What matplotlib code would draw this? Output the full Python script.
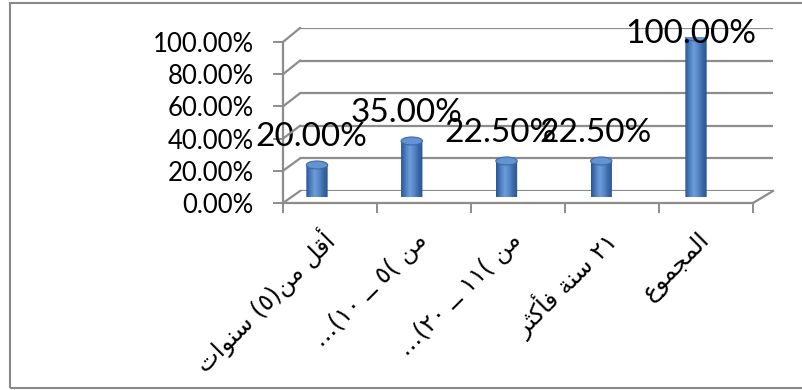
import re
import numpy as np
import matplotlib
matplotlib.use("Agg")
import matplotlib.pyplot as plt
from matplotlib.patches import Rectangle, Ellipse
from matplotlib.path import Path
from matplotlib.lines import Line2D
from matplotlib.colors import LinearSegmentedColormap

# ---------------- data ----------------
categories = ["أقل من(٥) سنوات", "من )٥ ــ ١٠)...", "من )١١ ــ ٢٠)...", "٢١ سنة فأكثر", "المجموع"]
values = [0.20, 0.35, 0.225, 0.225, 1.00]
data_labels = ["20.00%", "35.00%", "22.50%", "22.50%", "100.00%"]
y_ticks = [0.0, 0.2, 0.4, 0.6, 0.8, 1.0]
y_tick_labels = ["0.00%", "20.00%", "40.00%", "60.00%", "80.00%", "100.00%"]

# ---------------- minimal Arabic shaping / bidi ----------------
FORMS = {
    '\u0627': ('\uFE8D', '\uFE8E', None, None),
    '\u0623': ('\uFE83', '\uFE84', None, None),
    '\u0629': ('\uFE93', '\uFE94', None, None),
    '\u062A': ('\uFE95', '\uFE96', '\uFE97', '\uFE98'),
    '\u062B': ('\uFE99', '\uFE9A', '\uFE9B', '\uFE9C'),
    '\u062C': ('\uFE9D', '\uFE9E', '\uFE9F', '\uFEA0'),
    '\u0631': ('\uFEAD', '\uFEAE', None, None),
    '\u0633': ('\uFEB1', '\uFEB2', '\uFEB3', '\uFEB4'),
    '\u0639': ('\uFEC9', '\uFECA', '\uFECB', '\uFECC'),
    '\u0641': ('\uFED1', '\uFED2', '\uFED3', '\uFED4'),
    '\u0642': ('\uFED5', '\uFED6', '\uFED7', '\uFED8'),
    '\u0643': ('\uFED9', '\uFEDA', '\uFEDB', '\uFEDC'),
    '\u0644': ('\uFEDD', '\uFEDE', '\uFEDF', '\uFEE0'),
    '\u0645': ('\uFEE1', '\uFEE2', '\uFEE3', '\uFEE4'),
    '\u0646': ('\uFEE5', '\uFEE6', '\uFEE7', '\uFEE8'),
    '\u0648': ('\uFEED', '\uFEEE', None, None),
    '\u0640': ('\u0640', '\u0640', '\u0640', '\u0640'),
}


def shape(s):
    out = []
    for i, c in enumerate(s):
        if c not in FORMS:
            out.append(c)
            continue
        prev = s[i - 1] if i > 0 else ''
        nxt = s[i + 1] if i + 1 < len(s) else ''
        jp = prev in FORMS and FORMS[prev][2] is not None
        jn = nxt in FORMS and FORMS[c][2] is not None
        iso, fin, ini, med = FORMS[c]
        if jp and jn:
            out.append(med)
        elif jp:
            out.append(fin)
        elif jn:
            out.append(ini)
        else:
            out.append(iso)
    return ''.join(out)


def visual(s):
    v = shape(s)[::-1]
    v = re.sub(r'[\u0660-\u06690-9]+', lambda m: m.group(0)[::-1], v)
    return v.translate(str.maketrans('()', ')('))


# ---------------- figure ----------------
W, H = 803, 390
fig = plt.figure(figsize=(W / 100, H / 100), dpi=100)
GRID = '#8c8c8c'
LATIN = ['Lato', 'DejaVu Sans']
ARAB = ['DejaVu Sans']


def box(l, t, r, b):
    return [l / W, 1 - b / H, (r - l) / W, (b - t) / H]


# back wall (gridlines)
ax_back = fig.add_axes(box(300, 28, 773, 191))
ax_back.set_xlim(0, 1)
ax_back.set_ylim(0, 1)
for t in y_ticks:
    ax_back.axhline(t, color=GRID, lw=1.6)
ax_back.axis('off')

# front axes (ticks and labels)
n = len(categories)
ax = fig.add_axes(box(283, 42, 753, 203))
ax.set_xlim(-0.5, n - 0.5)
ax.set_ylim(0, 1)
ax.patch.set_alpha(0)
for sp in ['top', 'right']:
    ax.spines[sp].set_visible(False)
for sp in ['left', 'bottom']:
    ax.spines[sp].set_color(GRID)
    ax.spines[sp].set_linewidth(1.6)
ax.set_yticks(y_ticks)
ax.set_yticklabels(y_tick_labels, fontsize=18.5, family=LATIN)
ax.tick_params(axis='y', length=7, width=1.4, color=GRID, pad=14)
ax.set_xticks(np.arange(n + 1) - 0.5)
ax.set_xticklabels([])
ax.tick_params(axis='x', which='major', length=7, width=1.4, color=GRID)
ax.set_xticks(np.arange(n), minor=True)
ax.set_xticklabels([visual(c) for c in categories], minor=True, rotation=45,
                   ha='right', va='center', rotation_mode='anchor',
                   fontsize=17.5, family=ARAB)
ax.tick_params(axis='x', which='minor', length=0, pad=24)

# diagonals joining front frame to back wall
inv = fig.transFigure.inverted()
for t in y_ticks:
    p1 = inv.transform(ax.transData.transform((-0.5, t)))
    p2 = inv.transform(ax_back.transData.transform((0, t)))
    fig.add_artist(Line2D([p1[0], p2[0]], [p1[1], p2[1]], color=GRID, lw=1.6))
p1 = inv.transform(ax.transData.transform((n - 0.5, 0)))
p2 = inv.transform(ax_back.transData.transform((1, 0)))
fig.add_artist(Line2D([p1[0], p2[0]], [p1[1], p2[1]], color=GRID, lw=1.6))

# bars (cylinders)
axb = fig.add_axes(box(269.6, 37, 743.4, 197))
axb.patch.set_alpha(0)
cmap = LinearSegmentedColormap.from_list('cyl', ['#2a5590', '#4a7cbf', '#6e9dd9', '#5687c9', '#3a68a6', '#2a5590'])
grad = np.linspace(0, 1, 64)[None, :]
bw = 0.225
eh = 0.05
for i, v in enumerate(values):
    x0, x1 = i - bw / 2, i + bw / 2
    th = np.linspace(np.pi, 2 * np.pi, 30)
    bx = i + bw / 2 * np.cos(th)
    by = eh / 2 * np.sin(th)
    verts = [(x0, v)] + list(zip(bx, by)) + [(x1, v), (x0, v)]
    clip = Path(verts, closed=True)
    im = axb.imshow(grad, extent=[x0, x1, -eh / 2, v], aspect='auto', cmap=cmap,
                    interpolation='bilinear', zorder=2)
    im.set_clip_path(clip, axb.transData)
    axb.add_patch(Ellipse((i, v), bw, eh, facecolor='#6593d2', edgecolor='#3c6aa7',
                          lw=0.8, zorder=3))
    axb.annotate(data_labels[i], (i, min(v + 0.175, 1.02)), xytext=(-4, 0),
                 textcoords='offset points', ha='center', va='center',
                 fontsize=24, family=LATIN, zorder=5, annotation_clip=False)
axb.set_xlim(-0.5, n - 0.5)
axb.set_ylim(0, 1)
axb.axis('off')

# outer border
fig.add_artist(Rectangle((10 / W, 1 - 388 / H), 800 / W, 385 / H, transform=fig.transFigure,
                         fill=False, edgecolor='#888888', lw=1.5))

fig.savefig('out.png', dpi=100)
